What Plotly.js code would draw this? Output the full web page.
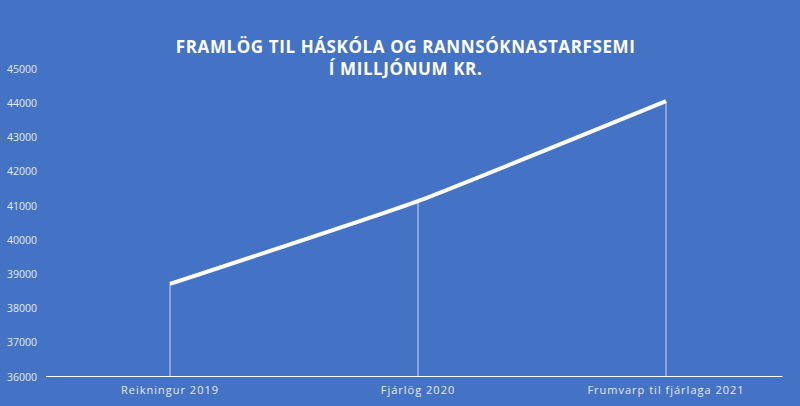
<!DOCTYPE html>
<html>
<head>
<meta charset="utf-8">
<script src="https://cdn.plot.ly/plotly-3.0.1.min.js"></script>
<style>
  html, body { margin: 0; padding: 0; background: #4472c4; }
  #chart { width: 800px; height: 406px; }
  /* the original has spaced-out lettering on title and category labels */
  #chart .gtitle { letter-spacing: 0.6px; }
  #chart .xtick text { letter-spacing: 1px; }
</style>
</head>
<body>
<div id="chart"></div>
<script>
// values in millions of ISK
var categories = ['Reikningur 2019', 'Fjárlög 2020', 'Frumvarp til fjárlaga 2021'];
var amounts = [38720, 41140, 44060];
var yTicks = [36000, 37000, 38000, 39000, 40000, 41000, 42000, 43000, 44000, 45000];
var yMin = 36000, yMax = 45000;

var bg = '#4472c4';

// thin drop lines from each point down to the axis
var drops = amounts.map(function (v) { return v - yMin; });

var data = [
  {
    type: 'scatter',
    mode: 'lines',
    x: categories,
    y: amounts,
    line: { color: 'white', width: 4, shape: 'spline', smoothing: 0.4 },
    error_y: {
      type: 'data',
      symmetric: false,
      array: [0, 0, 0],
      arrayminus: drops,
      color: 'rgba(255,255,255,0.7)',
      thickness: 1,
      width: 0
    },
    hoverinfo: 'x+y'
  }
];

var layout = {
  width: 800,
  height: 406,
  paper_bgcolor: bg,
  plot_bgcolor: bg,
  margin: { l: 46, r: 10, t: 69, b: 29 },
  showlegend: false,
  title: {
    text: '<b>FRAMLÖG TIL HÁSKÓLA OG RANNSÓKNASTARFSEMI<br>Í MILLJÓNUM KR.</b>',
    font: { family: 'Open Sans, sans-serif', size: 17, color: 'white' },
    x: 0.507,
    xanchor: 'center',
    y: 0.87,
    yanchor: 'top'
  },
  xaxis: {
    type: 'category',
    range: [-0.5, 2.5],
    showgrid: false,
    zeroline: false,
    showline: false,
    ticks: '',
    ticklabelstandoff: 5,
    tickfont: { family: 'Open Sans, sans-serif', size: 11, color: '#e6ebf5' },
    fixedrange: true
  },
  yaxis: {
    range: [yMin, yMax],
    tickvals: yTicks,
    ticktext: yTicks.map(String),
    showgrid: false,
    zeroline: false,
    showline: false,
    ticks: '',
    ticklabelstandoff: 8,
    tickfont: { family: 'Open Sans, sans-serif', size: 10.5, color: '#e6ebf5' },
    fixedrange: true
  },
  shapes: [
    {
      type: 'line', xref: 'paper', yref: 'y',
      x0: 0, x1: 0.99, y0: yMin, y1: yMin,
      line: { color: 'white', width: 2 }
    }
  ]
};

Plotly.newPlot('chart', data, layout, { displayModeBar: false, staticPlot: true });
</script>
</body>
</html>
